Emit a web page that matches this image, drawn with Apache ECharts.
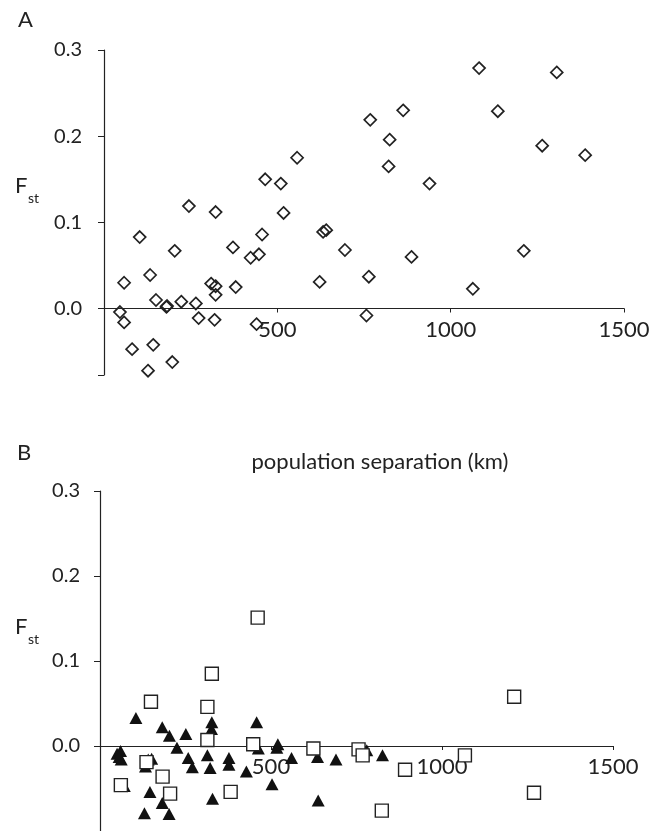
<!DOCTYPE html>
<html>
<head>
<meta charset="utf-8">
<script src="https://cdn.jsdelivr.net/npm/echarts@6/dist/echarts.min.js"></script>
<style>
  html, body { margin: 0; padding: 0; background: #fff; }
  #chart { width: 650px; height: 831px; }
</style>
</head>
<body>
<div id="chart"></div>
<script>
// panel A: all populations (open diamonds)
var distA = [46, 58, 58, 81, 103, 127, 133, 142, 150, 180, 182, 197, 204, 223, 245, 265, 273,
  309, 319, 322, 322, 322, 372, 380, 423, 440, 447, 456, 465, 510, 518, 557, 622, 632, 641,
  695, 757, 764, 768, 821, 824, 863, 887, 939, 1064, 1082, 1136, 1211, 1264, 1306, 1388];
var fstA = [-0.004, 0.030, -0.016, -0.047, 0.083, -0.072, 0.039, -0.042, 0.010, 0.002, 0.003,
  -0.062, 0.067, 0.008, 0.119, 0.006, -0.011, 0.029, -0.013, 0.112, 0.026, 0.016, 0.071, 0.025,
  0.059, -0.018, 0.063, 0.086, 0.150, 0.145, 0.111, 0.175, 0.031, 0.089, 0.091, 0.068, -0.008,
  0.037, 0.219, 0.165, 0.196, 0.230, 0.060, 0.145, 0.023, 0.279, 0.229, 0.067, 0.189, 0.274, 0.178];

// panel B: open squares
var distBopen = [61, 136, 149, 183, 205, 314, 314, 327, 382, 448, 461, 624, 756, 768, 824, 892,
  1067, 1211, 1269];
var fstBopen = [-0.046, -0.019, 0.052, -0.036, -0.056, 0.046, 0.007, 0.085, -0.054, 0.002, 0.151,
  -0.003, -0.004, -0.011, -0.076, -0.028, -0.011, 0.058, -0.055];

// panel B: filled triangles
var distBfill = [50, 60, 62, 56, 71, 105, 130, 133, 141, 151, 146, 182, 182, 202, 203, 225, 251,
  258, 270, 314, 322, 326, 327, 329, 377, 377, 428, 458, 463, 503, 517, 520, 560, 636, 638, 690,
  780, 826];
var fstBfill = [-0.009, -0.006, -0.016, -0.013, -0.047, 0.033, -0.079, -0.024, -0.016, -0.015,
  -0.054, 0.022, -0.067, -0.080, 0.012, -0.002, 0.014, -0.014, -0.025, -0.011, -0.026, 0.020,
  0.028, -0.062, -0.014, -0.022, -0.030, 0.028, -0.003, -0.045, -0.002, 0.002, -0.014, -0.013,
  -0.064, -0.016, -0.005, -0.011];

var yTicks = [0, 0.1, 0.2, 0.3];
var xTicks = [500, 1000, 1500];
var xTitle = 'population separation (km)';

function pairs(xs, ys) {
  var out = [];
  for (var i = 0; i < xs.length; i++) out.push([xs[i], ys[i]]);
  return out;
}

var ink = '#222';
var fontFam = 'Lato, "Open Sans", sans-serif';

// x axis drawn at F=0: shift it up from the grid bottom
function xAx(idx, shift) {
  return {
    type: 'value', gridIndex: idx, min: 0, max: 1500,
    position: 'bottom', offset: -shift,
    axisLine: { onZero: false, lineStyle: { color: ink, width: 1.2 } },
    axisTick: { customValues: xTicks, length: 4, lineStyle: { color: ink } },
    axisLabel: {
      customValues: xTicks, margin: 10, color: ink, fontSize: 22, fontFamily: fontFam,
      formatter: function (v) { return String(v); }
    },
    splitLine: { show: false }
  };
}
function yAx(idx, ymin, labelMargin) {
  return {
    type: 'value', gridIndex: idx, min: ymin, max: 0.3,
    axisLine: { show: true, onZero: false, lineStyle: { color: ink, width: 1.2 } },
    axisTick: { customValues: [ymin].concat(yTicks), length: 6, lineStyle: { color: ink } },
    axisLabel: {
      customValues: yTicks, margin: labelMargin, color: ink, fontSize: 20, fontFamily: fontFam,
      formatter: function (v) { return v.toFixed(1); }
    },
    splitLine: { show: false }
  };
}

function label(txt, x, y, size, align) {
  return {
    type: 'text', x: x, y: y,
    style: { text: txt, fill: ink, fontSize: size, fontFamily: fontFam, align: align || 'left', verticalAlign: 'middle' }
  };
}

var chart = echarts.init(document.getElementById('chart'));
chart.setOption({
  animation: false,
  backgroundColor: '#fff',
  grid: [
    { left: 104, top: 50, width: 520, height: 325, outerBoundsMode: 'none', containLabel: false },
    { left: 100, top: 491, width: 513, height: 340, outerBoundsMode: 'none', containLabel: false }
  ],
  xAxis: [xAx(0, 66.5), xAx(1, 85)],
  yAxis: [yAx(0, -0.077, 22), yAx(1, -0.1, 20)],
  graphic: [
    label('A', 18, 20, 22),
    label('B', 17, 453, 22),
    label(xTitle, 380, 462, 22, 'center'),
    label('F', 15, 186, 22),
    label('st', 28, 198, 14),
    label('F', 15, 627, 22),
    label('st', 28, 639, 14)
  ],
  series: [
    {
      type: 'scatter', xAxisIndex: 0, yAxisIndex: 0,
      symbol: 'diamond', symbolSize: 12,
      itemStyle: { color: 'rgba(0,0,0,0)', borderColor: ink, borderWidth: 1.7, opacity: 1 },
      data: pairs(distA, fstA)
    },
    {
      type: 'scatter', xAxisIndex: 1, yAxisIndex: 1,
      symbol: 'triangle', symbolSize: [13, 12],
      itemStyle: { color: '#111', opacity: 1 },
      data: pairs(distBfill, fstBfill)
    },
    {
      type: 'scatter', xAxisIndex: 1, yAxisIndex: 1,
      symbol: 'rect', symbolSize: 13,
      itemStyle: { color: '#fff', borderColor: ink, borderWidth: 1.4, opacity: 1 },
      data: pairs(distBopen, fstBopen)
    }
  ]
});
</script>
</body>
</html>
